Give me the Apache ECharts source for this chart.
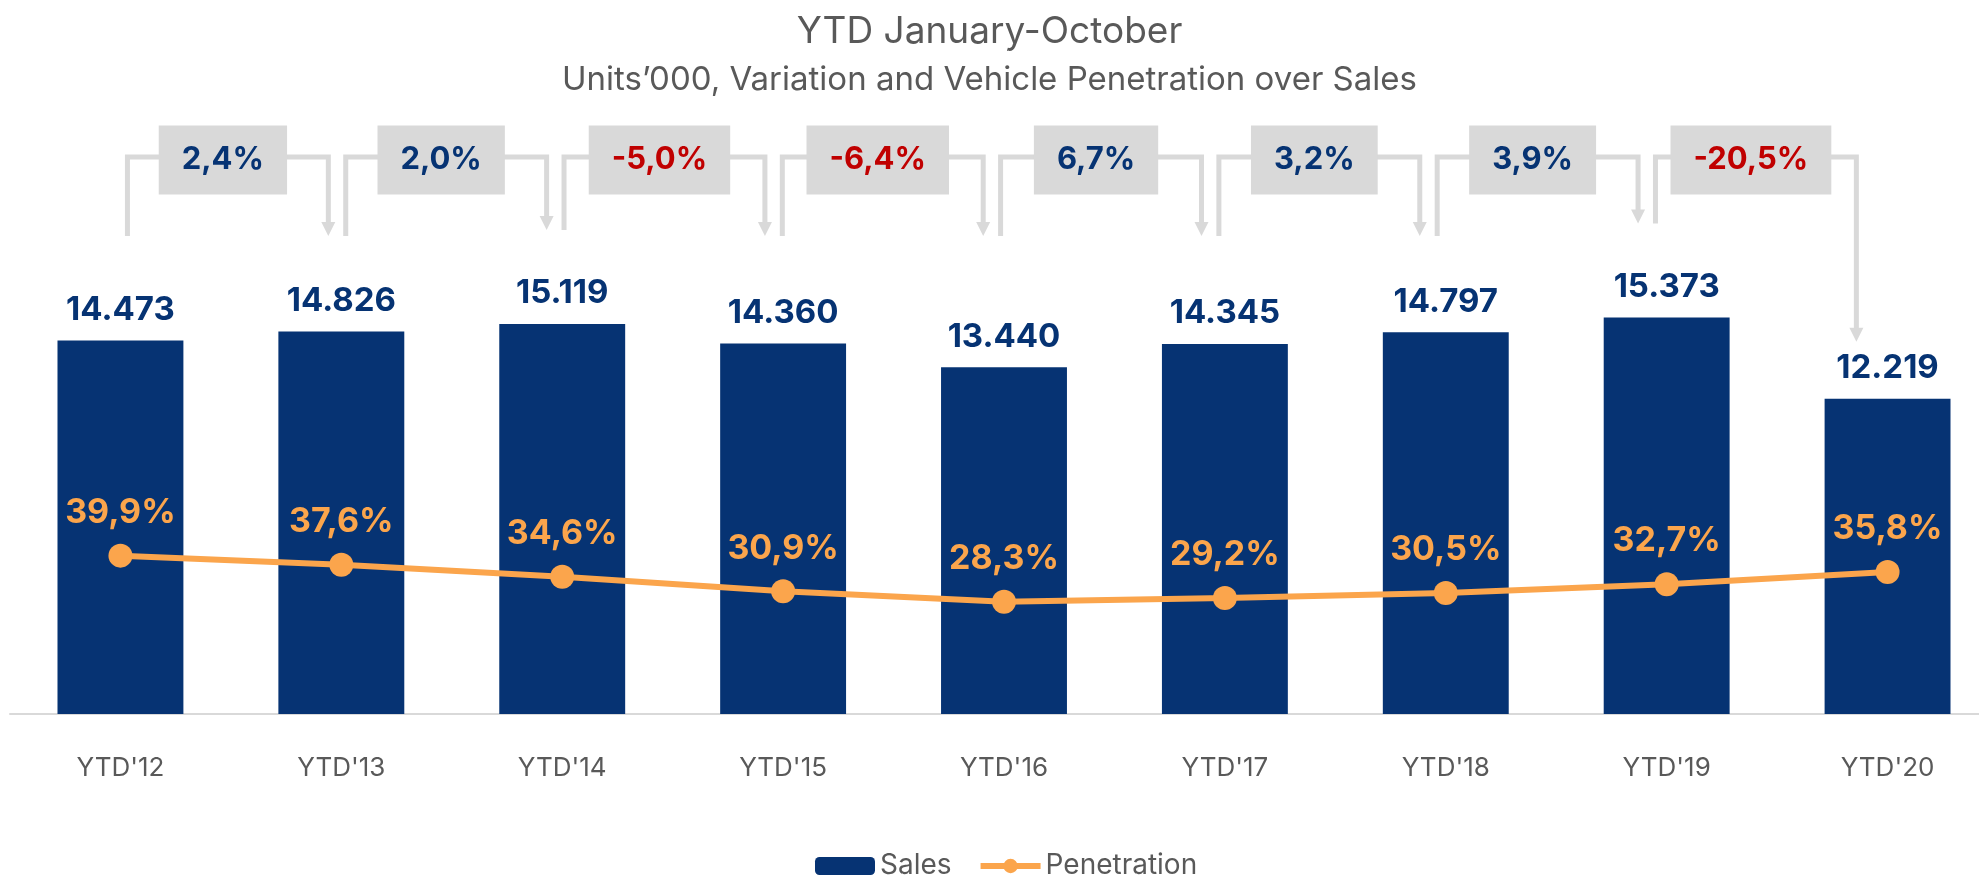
<!DOCTYPE html>
<html>
<head>
<meta charset="utf-8">
<script src="https://cdn.jsdelivr.net/npm/echarts@6/dist/echarts.min.js"></script>
<style>
  html, body { margin: 0; padding: 0; background: #fff; }
  #chart { width: 1979px; height: 876px; }
</style>
</head>
<body>
<div id="chart"></div>
<script>
// data
const categories = ["YTD'12", "YTD'13", "YTD'14", "YTD'15", "YTD'16", "YTD'17", "YTD'18", "YTD'19", "YTD'20"]
const sales = [14473, 14826, 15119, 14360, 13440, 14345, 14797, 15373, 12219]
const penetration = [39.9, 37.6, 34.6, 30.9, 28.3, 29.2, 30.5, 32.7, 35.8]
// year over year variation, in %, between neighbour bars
const variations = [2.4, 2.0, -5.0, -6.4, 6.7, 3.2, 3.9, -20.5]

const NAVY = '#063373'
const ORANGE = '#FBA54C'
const RED = '#C00000'
const GREY_TXT = '#595959'
const GREY_BOX = '#D9D9D9'
const FONT = 'Inter, Lato, sans-serif'

const fmtThousands = v => String(v).replace(/\B(?=(\d{3})+(?!\d))/g, '.')
const fmtPct = v => v.toFixed(1).replace('.', ',') + '%'

const chart = echarts.init(document.getElementById('chart'))

// brackets with arrows + grey boxes between the bars
function renderVariation(params, api) {
  const i = api.value(0)
  const v = api.value(1)
  const a = api.coord([i, sales[i]])
  const b = api.coord([i + 1, sales[i + 1]])
  const lineY = 157
  const level = top => Math.min(236, top - 94)
  // the brackets sit a little tighter than the bars, so they drift left
  const drift = i * 2.6
  const xL = a[0] + 7 - drift
  const xR = b[0] - 13 - drift
  const yL = level(a[1])
  // a big drop points the arrow right down to the value label
  const tip = v < -10 ? b[1] - 57 : level(b[1])
  return {
    type: 'group',
    children: [
      {
        type: 'polyline',
        shape: { points: [[xL, yL], [xL, lineY], [xR, lineY], [xR, tip - 13]] },
        style: { fill: null, stroke: GREY_BOX, lineWidth: 5 }
      },
      {
        type: 'polygon',
        shape: { points: [[xR - 7, tip - 14], [xR + 7, tip - 14], [xR, tip]] },
        style: { fill: GREY_BOX }
      },
      {
        type: 'text',
        x: (xL + xR) / 2 - 5,
        y: 160,
        style: {
          text: fmtPct(v),
          align: 'center',
          verticalAlign: 'middle',
          fill: v < 0 ? RED : NAVY,
          font: 'bold 31px ' + FONT,
          backgroundColor: GREY_BOX,
          padding: [17, 23],
          lineHeight: 35
        }
      }
    ]
  }
}

chart.setOption({
  animation: false,
  title: [
    {
      text: 'YTD January-October',
      left: 'center',
      top: 8,
      textStyle: { color: GREY_TXT, fontFamily: FONT, fontWeight: 'normal', fontSize: 37 }
    },
    {
      text: 'Units\u2019000, Variation and Vehicle Penetration over Sales',
      left: 'center',
      top: 59,
      textStyle: { color: GREY_TXT, fontFamily: FONT, fontWeight: 'normal', fontSize: 33 }
    }
  ],
  legend: {
    data: ['Sales', 'Penetration'],
    left: 810,
    top: 847,
    itemWidth: 60,
    itemHeight: 18,
    itemGap: 26,
    lineStyle: { width: 6 },
    textStyle: { color: GREY_TXT, fontFamily: FONT, fontSize: 28 }
  },
  grid: { left: 10, width: 1988, top: 198, bottom: 162, outerBoundsMode: 'none' },
  xAxis: {
    type: 'category',
    data: categories,
    axisLine: { lineStyle: { color: '#D9D9D9', width: 2 } },
    axisTick: { show: false },
    axisLabel: { color: GREY_TXT, fontFamily: FONT, fontSize: 26, margin: 41 }
  },
  yAxis: [
    { type: 'value', min: 0, max: 20000, show: false, splitLine: { show: false } },
    { type: 'value', min: 0, max: 130, show: false, splitLine: { show: false } }
  ],
  series: [
    {
      name: 'Sales',
      type: 'bar',
      data: sales,
      barWidth: '57%',
      itemStyle: { color: NAVY },
      label: {
        show: true,
        position: 'top',
        distance: 14,
        color: NAVY,
        fontFamily: FONT,
        fontWeight: 'bold',
        fontSize: 33,
        formatter: p => fmtThousands(p.value)
      }
    },
    {
      name: 'Penetration',
      type: 'line',
      yAxisIndex: 1,
      data: penetration,
      symbol: 'circle',
      symbolSize: 24,
      lineStyle: { color: ORANGE, width: 6 },
      itemStyle: { color: ORANGE },
      label: {
        show: true,
        position: 'top',
        distance: 14,
        color: ORANGE,
        fontFamily: FONT,
        fontWeight: 'bold',
        fontSize: 34,
        formatter: p => fmtPct(p.value)
      }
    },
    {
      name: 'Variation',
      type: 'custom',
      clip: false,
      silent: true,
      data: variations.map((v, i) => [i, v]),
      renderItem: renderVariation,
      z: 1
    }
  ]
})
</script>
</body>
</html>
